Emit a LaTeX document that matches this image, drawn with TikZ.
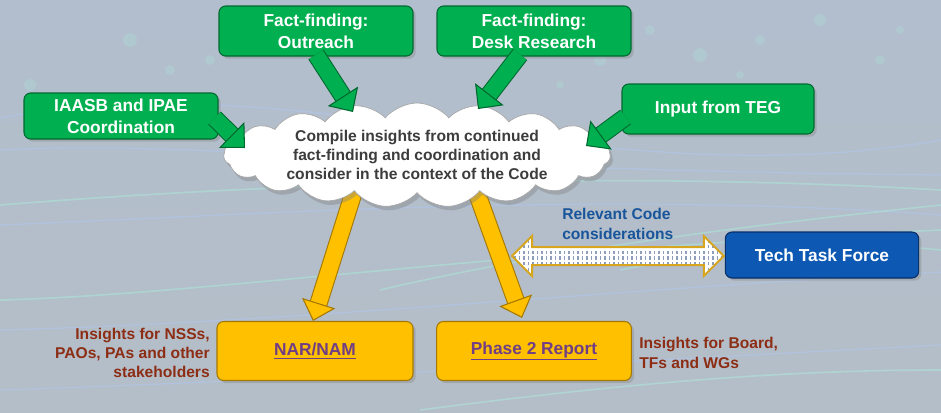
\documentclass[tikz,border=0pt]{standalone}
\usepackage{fontspec}
\setmainfont{Liberation Sans}
\usetikzlibrary{shapes.symbols,shadows,arrows.meta,calc}
\definecolor{gfill}{RGB}{0,176,80}
\definecolor{gline}{RGB}{0,105,48}
\definecolor{yfill}{RGB}{255,192,0}
\definecolor{yline}{RGB}{165,120,0}
\definecolor{bfill}{RGB}{12,88,178}
\definecolor{bline}{RGB}{8,48,105}
\definecolor{linkc}{RGB}{112,62,132}
\definecolor{insightc}{RGB}{140,45,20}
\definecolor{labblue}{RGB}{25,85,155}
\definecolor{cloudtxt}{RGB}{60,60,60}
\definecolor{bgtop}{RGB}{178,190,205}
\definecolor{bgmid}{RGB}{165,173,184}
\definecolor{bgbot}{RGB}{180,190,200}
\definecolor{glow}{RGB}{170,240,220}
\definecolor{glowb}{RGB}{175,200,245}
\definecolor{dotc}{RGB}{140,158,188}
\definecolor{dblline}{RGB}{215,165,30}
\newcommand\garr[2]{%
  \draw[garrback] #1 -- #2;
  \draw[garrow] #1 -- #2;}
\newcommand\yarr[2]{%
  \draw[yarrback] #1 -- #2;
  \draw[yarrow] #1 -- #2;}
\newcommand\dblpath{(dl) -- ++(20,-20) -- ++(0,11) -- ($(dr)+(-20,-9)$) -- ++(0,-11) -- (dr) -- ++(-20,20) -- ++(0,-11) -- ($(dl)+(20,9)$) -- ++(0,11) -- cycle}
\tikzset{
  box/.style={rectangle, rounded corners=5pt, line width=0.8pt, font=\bfseries\fontsize{13}{16.5}\selectfont,
    align=center, inner sep=2pt, drop shadow={opacity=0.35, shadow xshift=2pt, shadow yshift=-2pt}},
  gbox/.style={box, fill=gfill, draw=gline, text=white, minimum width=145.5pt},
  ybox/.style={box, fill=yfill, draw=yline, text=linkc, minimum width=147pt, minimum height=44.25pt},
  bbox/.style={box, fill=bfill, draw=bline, text=white, minimum width=145pt, minimum height=34.5pt},
  insight/.style={font=\bfseries\fontsize{11.7}{14.5}\selectfont, text=insightc, inner sep=0pt},
  garrback/.style={line width=13.6pt, draw=gline, shorten >=9pt},
  garrow/.style={line width=12pt, draw=gfill, -{Triangle[width=27pt,length=14pt,line width=0.8pt,fill=gfill,color=gline]}},
  yarrback/.style={line width=13.6pt, draw=yline, shorten >=10pt},
  yarrow/.style={line width=12pt, draw=yfill, -{Triangle[width=26pt,length=14pt,line width=0.8pt,fill=yfill,color=yline]}},
  glowline/.style={draw=glow, line width=1.2pt, opacity=0.45},
  glowlineb/.style={draw=glowb, line width=1pt, opacity=0.45},
}
\begin{document}
\begin{tikzpicture}[x=0.75pt, y=-0.75pt]
\useasboundingbox (0,0) rectangle (941,412);
% background
\shade[top color=bgtop, middle color=bgmid, bottom color=bgbot] (0,0) rectangle (941,412);
\draw[glowlineb] (0,118) .. controls (300,60) and (600,200) .. (941,140);
\draw[glowline] (0,205) .. controls (250,185) and (600,170) .. (941,190);
\draw[glowlineb] (0,225) .. controls (250,215) and (600,190) .. (941,215);
\draw[glowline] (0,300) .. controls (200,295) and (500,250) .. (941,230);
\draw[glowlineb] (0,330) .. controls (300,322) and (600,290) .. (941,272);
\draw[glowline] (380,290) .. controls (550,250) and (750,225) .. (941,205);
\draw[glowline] (620,270) .. controls (720,250) and (850,240) .. (941,250);
\draw[glowlineb] (0,390) .. controls (300,380) and (650,360) .. (941,345);
\draw[glowline] (420,410) .. controls (650,380) and (800,370) .. (941,370);
\draw[glowlineb] (0,150) .. controls (200,140) and (400,170) .. (941,175);
\foreach \p/\r in {(30,85)/6,(95,110)/4,(130,40)/7,(170,70)/5,(600,60)/6,(650,30)/5,(700,55)/7,(760,40)/5,(820,20)/6,(880,60)/5,(900,30)/4,(740,75)/4,(560,85)/4,(210,60)/5}
  \fill[glow, opacity=0.2] \p circle (\r);
% boxes
\node[gbox, minimum height=37.5pt] (out) at (316,31) {Fact-finding:\\Outreach};
\node[gbox, minimum height=37.5pt] (desk) at (534,31) {Fact-finding:\\Desk Research};
\node[gbox, minimum height=34.5pt] (iaasb) at (121,116) {IAASB and IPAE\\Coordination};
\node[gbox, minimum height=37.5pt, minimum width=144pt] (teg) at (718,109) {Input from TEG};
\node[ybox] (nar) at (315,351) {\underline{NAR/NAM}};
\node[ybox, minimum width=146pt] (ph2) at (534,351) {\underline{Phase 2 Report}};
\node[bbox] (ttf) at (822,255) {Tech Task Force};
% yellow arrows (start under cloud)
\coordinate (ys1) at (356,185);
\coordinate (ys2) at (474,185);
\yarr{(ys1)}{($(nar.north)+(-2,0)$)}
\yarr{(ys2)}{($(ph2.north)+(-12,-3)$)}
% cloud
\node[cloud, cloud puffs=19, cloud puff arc=100, cloud ignores aspect, minimum width=290pt, minimum height=78pt,
  fill=white, draw=gray!70, line width=0.5pt, drop shadow={opacity=0.4, shadow xshift=2pt, shadow yshift=-3pt},
  align=center, font=\bfseries\fontsize{11.7}{14.3}\selectfont, text=cloudtxt, inner sep=0pt] (cloud) at (417,155)
  {Compile insights from continued\\fact-finding and coordination and\\consider in the context of the Code};
% green arrows
\coordinate (c1) at (353,112);
\coordinate (c2) at (478,109);
\coordinate (c3) at (245,148);
\coordinate (c4) at (586,146);
\garr{($(out.south)+(0,-2)$)}{(c1)}
\garr{($(desk.south)+(-14,-2)$)}{(c2)}
\garr{($(iaasb.east)+(-4,2)$)}{(c3)}
\garr{($(teg.west)+(4,8)$)}{(c4)}
% double arrow
\coordinate (dl) at (512,256);
\coordinate (dr) at ($(ttf.west)+(-1,1)$);
\fill[white] \dblpath;
\begin{scope}
  \clip \dblpath;
  \foreach \xx in {515,519.5,...,725}
    \draw[dotc, line width=1pt, dash pattern=on 2.4pt off 1.8pt] (\xx,234) -- (\xx,278);
\end{scope}
\draw[dblline, line width=1.5pt, line join=miter] \dblpath;
% labels
\node[font=\bfseries\fontsize{11.7}{14.5}\selectfont, text=labblue, align=left, anchor=west, inner sep=0pt] (rcc) at (562,224) {Relevant Code\\considerations};
\node[insight, align=right, anchor=east] (ins1) at (210,353) {Insights for NSSs,\\PAOs, PAs and other\\stakeholders};
\node[insight, align=left, anchor=west] (ins2) at (639,353) {Insights for Board,\\TFs and WGs};
\end{tikzpicture}
\end{document}
